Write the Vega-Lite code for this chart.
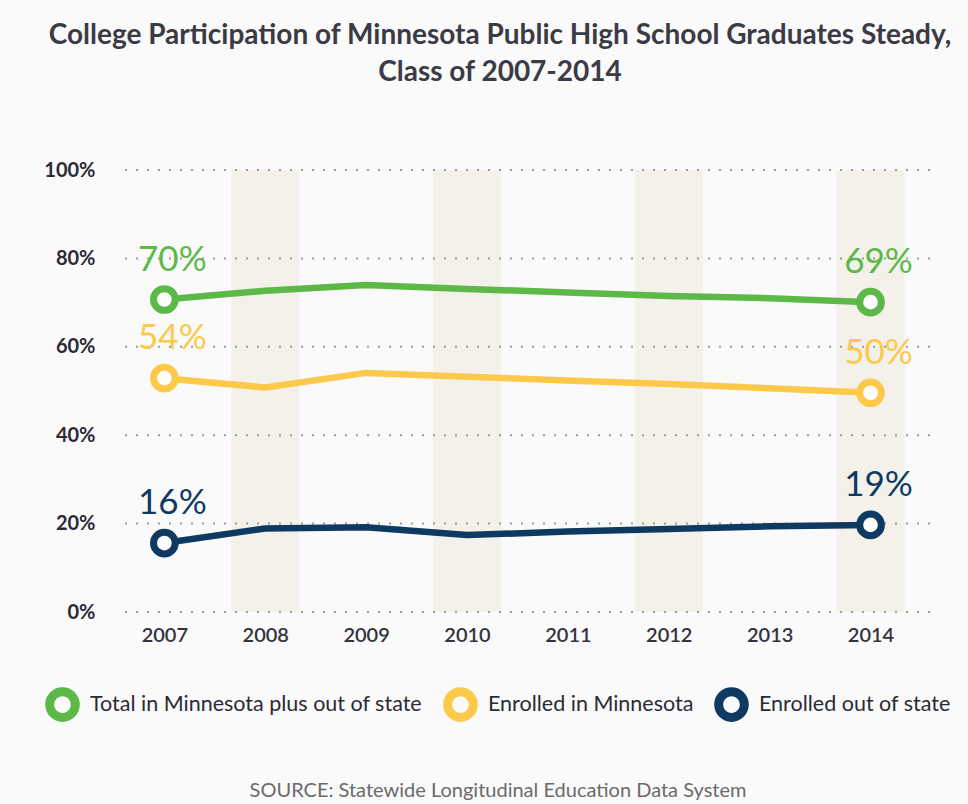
{
  "$schema": "https://vega.github.io/schema/vega-lite/v6.json",
  "width": 812,
  "height": 442,
  "autosize": {"type": "none"},
  "padding": {"left": 118, "top": 170, "right": 38, "bottom": 192},
  "background": "#fafafa",
  "title": {
    "text": ["College Participation of Minnesota Public High School Graduates Steady,", "Class of 2007-2014"],
    "font": "Lato",
    "fontSize": 28,
    "fontWeight": "bold",
    "color": "#3b3b45",
    "lineHeight": 37,
    "anchor": "middle",
    "frame": "group",
    "dx": -24,
    "offset": 73
  },
  "datasets": {
    "series": [
      {"year": 2007, "series": "Total in Minnesota plus out of state", "value": 70.7, "label": "70%"},
      {"year": 2008, "series": "Total in Minnesota plus out of state", "value": 72.7},
      {"year": 2009, "series": "Total in Minnesota plus out of state", "value": 74.0},
      {"year": 2010, "series": "Total in Minnesota plus out of state", "value": 73.1},
      {"year": 2011, "series": "Total in Minnesota plus out of state", "value": 72.3},
      {"year": 2012, "series": "Total in Minnesota plus out of state", "value": 71.5},
      {"year": 2013, "series": "Total in Minnesota plus out of state", "value": 71.0},
      {"year": 2014, "series": "Total in Minnesota plus out of state", "value": 70.1, "label": "69%"},
      {"year": 2007, "series": "Enrolled in Minnesota", "value": 52.9, "label": "54%"},
      {"year": 2008, "series": "Enrolled in Minnesota", "value": 50.8},
      {"year": 2009, "series": "Enrolled in Minnesota", "value": 54.1},
      {"year": 2010, "series": "Enrolled in Minnesota", "value": 53.2},
      {"year": 2011, "series": "Enrolled in Minnesota", "value": 52.4},
      {"year": 2012, "series": "Enrolled in Minnesota", "value": 51.6},
      {"year": 2013, "series": "Enrolled in Minnesota", "value": 50.6},
      {"year": 2014, "series": "Enrolled in Minnesota", "value": 49.6, "label": "50%"},
      {"year": 2007, "series": "Enrolled out of state", "value": 15.6, "label": "16%"},
      {"year": 2008, "series": "Enrolled out of state", "value": 18.9},
      {"year": 2009, "series": "Enrolled out of state", "value": 19.2},
      {"year": 2010, "series": "Enrolled out of state", "value": 17.4},
      {"year": 2011, "series": "Enrolled out of state", "value": 18.2},
      {"year": 2012, "series": "Enrolled out of state", "value": 18.8},
      {"year": 2013, "series": "Enrolled out of state", "value": 19.4},
      {"year": 2014, "series": "Enrolled out of state", "value": 19.7, "label": "19%"}
    ],
    "bands": [{"year": 2008}, {"year": 2010}, {"year": 2012}, {"year": 2014}],
    "grid": [{"g": 0}, {"g": 20}, {"g": 40}, {"g": 60}, {"g": 80}, {"g": 100}]
  },
  "layer": [
    {
      "data": {"name": "bands"},
      "mark": {"type": "bar", "size": 68, "color": "#f3f1e9"},
      "encoding": {
        "x": {
          "field": "year", "type": "quantitative",
          "scale": {"domain": [2006.59, 2014.54], "nice": false, "zero": false},
          "axis": {"title": null, "values": [2007, 2008, 2009, 2010, 2011, 2012, 2013, 2014], "format": "d"}
        },
        "y": {
          "datum": 100, "type": "quantitative",
          "scale": {"domain": [0, 100], "nice": false},
          "axis": {"title": null, "values": [0, 20, 40, 60, 80, 100], "labelExpr": "datum.value + '%'"}
        }
      }
    },
    {
      "data": {"name": "grid"},
      "mark": {"type": "rule", "color": "#9a9a9a", "strokeWidth": 2, "strokeDash": [2, 9]},
      "encoding": {
        "y": {"field": "g", "type": "quantitative", "axis": {"title": null}}
      }
    },
    {
      "data": {"name": "series"},
      "mark": {"type": "line", "strokeWidth": 6.5, "strokeCap": "round", "strokeJoin": "round"},
      "encoding": {
        "x": {"field": "year", "type": "quantitative", "axis": {"title": null}},
        "y": {"field": "value", "type": "quantitative", "axis": {"title": null}},
        "color": {
          "field": "series", "type": "nominal",
          "scale": {"domain": ["Total in Minnesota plus out of state", "Enrolled in Minnesota", "Enrolled out of state"], "range": ["#5cb947", "#fdc94a", "#0e3a62"]},
          "legend": {
            "title": "SOURCE: Statewide Longitudinal Education Data System",
            "orient": "none",
            "legendX": -73,
            "legendY": 517,
            "direction": "horizontal",
            "titleOrient": "bottom",
            "titleAnchor": "middle",
            "titleFont": "Lato",
            "titleFontSize": 20,
            "titleFontWeight": "normal",
            "titleColor": "#6b6b6b",
            "titlePadding": 59,
            "titleLimit": 1000,
            "labelFont": "Lato",
            "labelFontSize": 21.5,
            "labelColor": "#2b2b35",
            "labelLimit": 1000,
            "labelOffset": 10,
            "columnPadding": 20,
            "symbolType": "M -1 0 A 1 1 0 1 0 1 0 A 1 1 0 1 0 -1 0 Z M -0.48 0 A 0.48 0.48 0 1 1 0.48 0 A 0.48 0.48 0 1 1 -0.48 0 Z",
            "symbolSize": 1200,
            "symbolStrokeWidth": 0
          }
        }
      }
    },
    {
      "data": {"name": "series"},
      "transform": [{"filter": "datum.year == 2007 || datum.year == 2014"}],
      "mark": {"type": "point", "shape": "circle", "filled": false, "fill": "#ffffff", "size": 470, "strokeWidth": 7, "opacity": 1},
      "encoding": {
        "x": {"field": "year", "type": "quantitative", "axis": {"title": null}},
        "y": {"field": "value", "type": "quantitative", "axis": {"title": null}},
        "color": {"field": "series", "type": "nominal"}
      }
    },
    {
      "data": {"name": "series"},
      "transform": [{"filter": "datum.label"}],
      "mark": {"type": "text", "font": "Lato", "fontSize": 35, "fontWeight": 400, "dx": 8, "dy": -40, "align": "center", "baseline": "middle"},
      "encoding": {
        "x": {"field": "year", "type": "quantitative", "axis": {"title": null}},
        "y": {"field": "value", "type": "quantitative", "axis": {"title": null}},
        "text": {"field": "label"},
        "color": {"field": "series", "type": "nominal"}
      }
    }
  ],
  "config": {
    "view": {"stroke": null},
    "axisX": {"domain": false, "ticks": false, "grid": false, "labelPadding": 13, "labelFont": "Lato", "labelFontSize": 20, "labelFontWeight": 600, "labelColor": "#33333d"},
    "axisY": {"domain": false, "ticks": false, "grid": false, "labelPadding": 23, "labelFont": "Lato", "labelFontSize": 20, "labelFontWeight": "bold", "labelColor": "#2b2b38"}
  }
}
